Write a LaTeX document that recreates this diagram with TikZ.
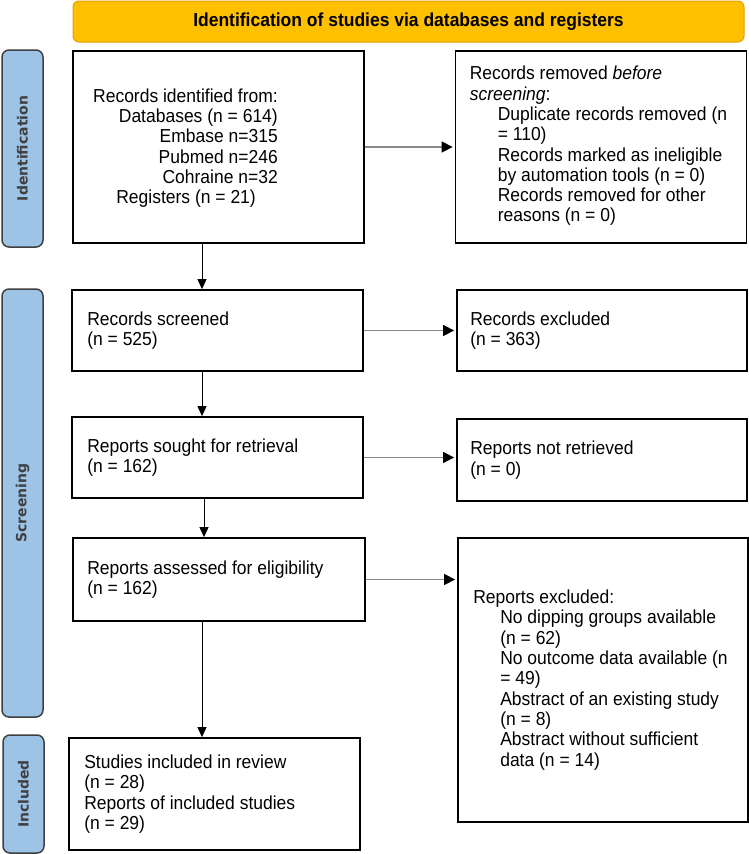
\documentclass[tikz,border=0pt]{standalone}
\usepackage{fontspec}
\setmainfont{Liberation Sans}[FakeStretch=0.93]
\newfontfamily\sidefont{DejaVu Sans}
\usetikzlibrary{arrows.meta}
\definecolor{banfill}{HTML}{FFC000}
\definecolor{banline}{HTML}{E0A200}
\definecolor{sidefill}{HTML}{9DC3E6}
\definecolor{sideline}{HTML}{3F3F3F}
\definecolor{sidetext}{HTML}{404040}
\definecolor{harrowcol}{HTML}{8A8A8A}
\begin{document}
\begin{tikzpicture}[x=1pt,y=-1pt,
  every node/.style={font=\fontsize{18.8}{20.3}\selectfont},
  flowbox/.style={draw=black, line width=1.8pt, inner sep=0pt, anchor=center},
  boxtext/.style={anchor=west, align=left, inner sep=0pt},
  sidebox/.style={draw=sideline, fill=sidefill, line width=1.5pt, rounded corners=7pt, inner sep=0pt, minimum width=41pt},
  sidelabel/.style={font=\sidefont\bfseries\fontsize{14}{16}\selectfont, text=sidetext, rotate=90, inner sep=0pt},
  harrow/.style={draw=harrowcol, line width=1.4pt, -{Triangle[length=11pt,width=11pt,fill=black,color=black]}, shorten >=2pt},
  varrow/.style={draw=black, line width=1pt, -{Triangle[length=10pt,width=9pt]}},
]
\useasboundingbox (0,0) rectangle (749,854);

% banner
\node (banner) [draw=banline, fill=banfill, line width=1pt, rounded corners=6pt,
  minimum width=671pt, minimum height=41pt, inner sep=0pt,
  font=\bfseries\fontsize{18.8}{20}\selectfont] at (408.5,21.5)
  {Identification of studies via databases and registers};

% side bars
\node (side1) [sidebox, minimum height=197pt] at (22.5,148.5) {};
\node (side1t) [sidelabel] at (side1.center) {Identification};
\node (side2) [sidebox, minimum height=428pt] at (22.5,503) {};
\node (side2t) [sidelabel] at (side2.center) {Screening};
\node (side3) [sidebox, minimum height=118pt] at (23.5,794) {};
\node (side3t) [sidelabel] at (side3.center) {Included};

% boxes
\node (box1) [flowbox, minimum width=291pt, minimum height=192pt] at (218.5,147) {};
\node (box1t) [anchor=east, align=right, inner sep=0pt] at (278,148)
  {Records identified from:\\
   Databases (n = 614)\\
   Embase n=315\\
   Pubmed n=246\\
   Cohraine n=32\\
   Registers (n = 21)\hspace*{22pt}};

\node (box2) [flowbox, minimum width=291pt, minimum height=192pt] at (601,147) {};
\node (box2t) [boxtext] at ([xshift=15pt,yshift=1pt]box2.west)
  {Records removed \textit{before}\\
   \textit{screening}:\\
   \hspace*{28pt}Duplicate records removed (n\\
   \hspace*{28pt}= 110)\\
   \hspace*{28pt}Records marked as ineligible\\
   \hspace*{28pt}by automation tools (n = 0)\\
   \hspace*{28pt}Records removed for other\\
   \hspace*{28pt}reasons (n = 0)};

\node (box3) [flowbox, minimum width=291pt, minimum height=81pt] at (217.5,330.5) {};
\node (box3t) [boxtext] at ([xshift=16pt]box3.west) {Records screened\\(n = 525)};
\node (box4) [flowbox, minimum width=290pt, minimum height=81pt] at (602,330.5) {};
\node (box4t) [boxtext] at ([xshift=14pt]box4.west) {Records excluded\\(n = 363)};

\node (box5) [flowbox, minimum width=291pt, minimum height=81pt] at (217.5,457.5) {};
\node (box5t) [boxtext] at ([xshift=16pt]box5.west) {Reports sought for retrieval\\(n = 162)};
\node (box6) [flowbox, minimum width=290pt, minimum height=82pt] at (602,460) {};
\node (box6t) [boxtext] at ([xshift=14pt]box6.west) {Reports not retrieved\\(n = 0)};

\node (box7) [flowbox, minimum width=292pt, minimum height=83pt] at (219,579.5) {};
\node (box7t) [boxtext] at ([xshift=15pt]box7.west) {Reports assessed for eligibility\\(n = 162)};
\node (box8) [flowbox, minimum width=290pt, minimum height=284pt] at (603,680) {};
\node (box8t) [boxtext] at ([xshift=16pt]box8.west)
  {Reports excluded:\\
   \hspace*{27pt}No dipping groups available\\
   \hspace*{27pt}(n = 62)\\
   \hspace*{27pt}No outcome data available (n\\
   \hspace*{27pt}= 49)\\
   \hspace*{27pt}Abstract of an existing study\\
   \hspace*{27pt}(n = 8)\\
   \hspace*{27pt}Abstract without sufficient\\
   \hspace*{27pt}data (n = 14)};

\node (box9) [flowbox, minimum width=291pt, minimum height=112pt] at (214.5,794) {};
\node (box9t) [boxtext] at ([xshift=16pt]box9.west)
  {Studies included in review\\
   (n = 28)\\
   Reports of included studies\\
   (n = 29)};

% connectors
\coordinate (vx1) at (202,0);
\coordinate (vx2) at (204,0);

\draw[harrow] (box1.east) -- (box2.west);
\draw[harrow] (box3.east) -- (box4.west |- box3.east);
\draw[harrow] (box5.east) -- (box6.west |- box5.east);
\draw[harrow] (box7.east) -- (box8.west |- box7.east);

\draw[varrow] (box1.south -| vx1) -- (box3.north -| vx1);
\draw[varrow] (box3.south -| vx1) -- (box5.north -| vx1);
\draw[varrow] (box5.south -| vx2) -- (box7.north -| vx2);
\draw[varrow] (box7.south -| vx1) -- (box9.north -| vx1);
\end{tikzpicture}
\end{document}
